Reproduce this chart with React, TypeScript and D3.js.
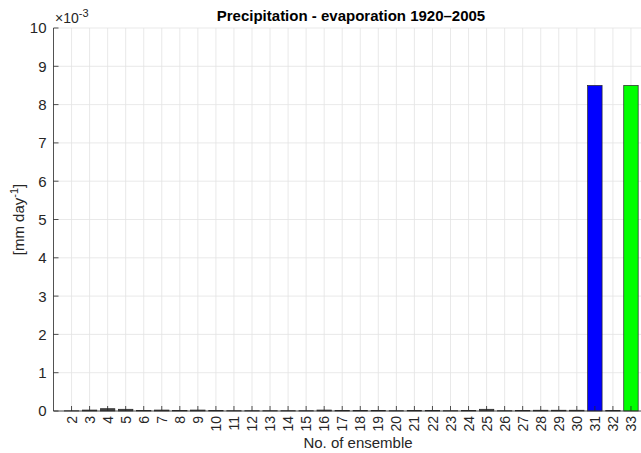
import React from "react";
import * as d3 from "d3";

// ensemble members 2..33, values in 1e-3 mm/day
const ensembles = [2, 3, 4, 5, 6, 7, 8, 9, 10, 11, 12, 13, 14, 15, 16, 17, 18, 19, 20, 21, 22, 23, 24, 25, 26, 27, 28, 29, 30, 31, 32, 33];
const values = [0.005, 0.025, 0.06, 0.045, 0.01, 0.025, 0.012, 0.025, 0.01, 0.008, 0.008, 0.008, 0.008, 0.008, 0.025, 0.012, 0.015, 0.015, 0.008, 0.015, 0.01, 0.008, 0.012, 0.045, 0.008, 0.012, 0.02, 0.02, 0.02, 8.5, 0.01, 8.5];
const barColors: Record<number, string> = { 31: "#0000ff", 33: "#00ff00" };
const yTicks = [0, 1, 2, 3, 4, 5, 6, 7, 8, 9, 10];

const W = 641, H = 453;
const margin = { top: 28, left: 53.5, bottom: 42 };
const font = "'Liberation Sans', Arial, sans-serif";

export default function App() {
  const x = d3.scaleLinear().domain([1, 34]).range([margin.left, 649]);
  const y = d3.scaleLinear().domain([0, 10]).range([H - margin.bottom, margin.top]);
  const bw = (x(2) - x(1)) * 0.8;
  const gridX = d3.range(2, 34);
  const y0 = y(0);

  return (
    <svg width={W} height={H} style={{ position: "absolute", left: 0, top: 0 }} fontFamily={font}>
      <rect width={W} height={H} fill="#fff" />
      {/* grid */}
      {gridX.map(v => (
        <line key={"gx" + v} x1={x(v)} x2={x(v)} y1={y(10)} y2={y0} stroke="#e3e3e3" strokeWidth={0.8} />
      ))}
      {yTicks.map(v => (
        <line key={"gy" + v} x1={margin.left} x2={W} y1={y(v)} y2={y(v)} stroke="#e3e3e3" strokeWidth={0.8} />
      ))}
      {/* bars */}
      {ensembles.map((e, i) => (
        <rect key={"b" + e} x={x(e) - bw / 2} width={bw} y={y(values[i])} height={y0 - y(values[i])}
          fill={barColors[e] || "#444"} stroke="#262626" strokeWidth={0.7} />
      ))}
      {/* axes */}
      <line x1={margin.left} x2={margin.left} y1={y(10)} y2={y0} stroke="#262626" strokeWidth={0.8} />
      <line x1={margin.left} x2={W} y1={y0} y2={y0} stroke="#262626" strokeWidth={0.8} />
      {yTicks.map(v => (
        <g key={"yt" + v}>
          <line x1={margin.left} x2={margin.left + 5} y1={y(v)} y2={y(v)} stroke="#262626" strokeWidth={0.8} />
          <text x={margin.left - 7} y={y(v)} dy="0.36em" textAnchor="end" fontSize={15} fill="#262626">{v}</text>
        </g>
      ))}
      {ensembles.map(e => (
        <g key={"xt" + e}>
          <line x1={x(e)} x2={x(e)} y1={y0} y2={y0 - 5} stroke="#262626" strokeWidth={0.8} />
          <text transform={`translate(${x(e)},${y0 + 5}) rotate(-90)`} dy="0.36em" textAnchor="end" fontSize={14} fill="#262626">{e}</text>
        </g>
      ))}
      <text x={55} y={23} fontSize={14} fill="#262626">
        ×10<tspan dy={-6} fontSize={11}>-3</tspan>
      </text>
      <text x={351} y={21} textAnchor="middle" fontSize={15} fontWeight="bold" fill="#000">Precipitation - evaporation 1920–2005</text>
      <text x={358} y={448} textAnchor="middle" fontSize={15} fill="#262626">No. of ensemble</text>
      <text transform={`translate(24,${(y(10) + y0) / 2}) rotate(-90)`} textAnchor="middle" fontSize={15} fill="#262626">
        [mm day<tspan dy={-6} fontSize={11}>-1</tspan><tspan dy={6}>]</tspan>
      </text>
    </svg>
  );
}
